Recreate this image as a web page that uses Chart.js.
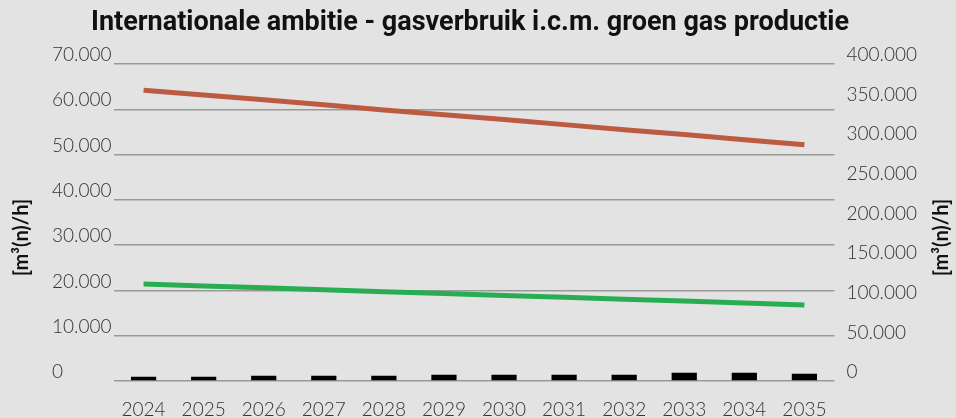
<!DOCTYPE html>
<html>
<head>
<meta charset="utf-8">
<script src="https://cdn.jsdelivr.net/npm/chart.js@4/dist/chart.umd.min.js"></script>
<style>
  html, body { margin: 0; padding: 0; background: #e3e3e3; }
  canvas { display: block; }
</style>
</head>
<body>
<canvas id="chart" width="956" height="418"></canvas>
<script>
const years = ["2024", "2025", "2026", "2027", "2028", "2029", "2030", "2031", "2032", "2033", "2034", "2035"];
// gasverbruik (right axis)
const gasUse = [367000, 361000, 355000, 348500, 342000, 336000, 330000, 323500, 317000, 311000, 304500, 298000];
// green line (left axis)
const greenLine = [21400, 21000, 20600, 20150, 19700, 19300, 18900, 18500, 18050, 17650, 17200, 16800];
// groen gas productie bars (left axis)
const greenGas = [950, 950, 1170, 1170, 1170, 1390, 1390, 1390, 1390, 1830, 1830, 1610];

const chartTitle = "Internationale ambitie - gasverbruik i.c.m. groen gas productie";
const axisTitle = "[m³(n)/h]";
const tickFont = { family: "Lato, 'Noto Sans', sans-serif", size: 19, weight: "300" };

const fmt = (v) => v === 0 ? "0" : v.toLocaleString("nl-NL");

// chart title + rotated unit titles on both sides
// (tick labels are left aligned, so these are drawn by hand)
const titles = {
    id: "titles",
    afterDraw(chart) {
        const c = chart.ctx;
        const area = chart.chartArea;
        c.save();
        c.fillStyle = "#111";
        c.textAlign = "center";
        c.textBaseline = "middle";
        c.font = "bold 27px Roboto, sans-serif";
        c.fillText(chartTitle, 470, 23);

        const yMid = (area.top + area.bottom) / 2 + 15;
        c.font = "bold 20px Lato, sans-serif";
        [22, chart.width - 14].forEach((x) => {
            c.save();
            c.translate(x, yMid);
            c.rotate(-Math.PI / 2);
            c.fillText(axisTitle, 0, 0);
            c.restore();
        });
        c.restore();
    },
};

const ctx = document.getElementById("chart").getContext("2d");
new Chart(ctx, {
    data: {
        labels: years,
        datasets: [
            {
                type: "line",
                label: "Gasverbruik",
                data: gasUse,
                yAxisID: "y1",
                borderColor: "#bc5b41",
                borderWidth: 5,
                pointRadius: 0,
                tension: 0,
            },
            {
                type: "line",
                label: "Groen gas",
                data: greenLine,
                yAxisID: "y",
                borderColor: "#28ad53",
                borderWidth: 5,
                pointRadius: 0,
                tension: 0,
            },
            {
                type: "bar",
                label: "Groen gas productie",
                data: greenGas,
                yAxisID: "y",
                backgroundColor: "#000000",
                barPercentage: 0.42,
                categoryPercentage: 1,
            },
        ],
    },
    options: {
        responsive: false,
        animation: false,
        devicePixelRatio: 1,
        layout: { padding: { top: 64, left: 52, right: 27, bottom: 0 } },
        plugins: {
            legend: { display: false },
            tooltip: { enabled: false },
        },
        scales: {
            x: {
                grid: { display: false },
                border: { display: false },
                ticks: { color: "#333", font: tickFont, padding: 9, maxRotation: 0 },
                afterFit: (scale) => { scale.height = 37; },
            },
            y: {
                position: "left",
                min: 0,
                max: 70000,
                grid: { color: "#999999", lineWidth: 1.5, drawTicks: false },
                border: { display: false },
                ticks: {
                    stepSize: 10000,
                    color: "#333",
                    font: tickFont,
                    padding: 1,
                    crossAlign: "far",
                    labelOffset: -9,
                    callback: fmt,
                },
            },
            y1: {
                position: "right",
                min: 0,
                max: 400000,
                grid: { drawOnChartArea: false, drawTicks: false },
                border: { display: false },
                ticks: {
                    stepSize: 50000,
                    color: "#333",
                    font: tickFont,
                    padding: 12,
                    labelOffset: -9,
                    callback: fmt,
                },
            },
        },
    },
    plugins: [titles],
});
</script>
</body>
</html>
